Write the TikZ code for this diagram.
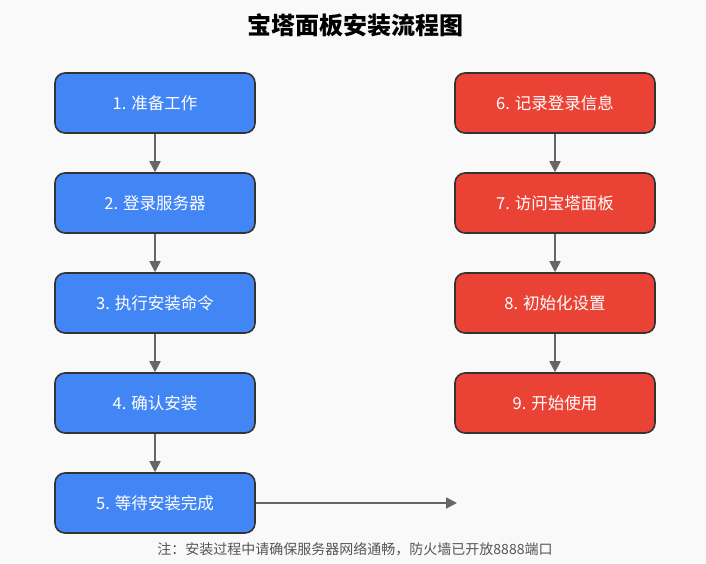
\documentclass[tikz,border=0pt]{standalone}
\usepackage{fontspec}
\setmainfont{Noto Sans CJK SC}
\usetikzlibrary{arrows.meta}
\definecolor{bgc}{HTML}{F9F9F9}
\definecolor{bluec}{HTML}{4285F4}
\definecolor{redc}{HTML}{EA4335}
\definecolor{edgec}{HTML}{333333}
\definecolor{arrc}{HTML}{666666}
\definecolor{notec}{HTML}{555555}
\tikzset{
  box/.style={draw=edgec, line width=1.6pt, rounded corners=10pt, minimum width=200pt, minimum height=60pt, text=white, font=\fontsize{16.5}{18}\selectfont, inner sep=0pt},
  bluebox/.style={box, fill=bluec},
  redbox/.style={box, fill=redc},
  conn/.style={draw=arrc, line width=1.8pt, -{Triangle[length=11pt,width=11pt]}}
}
\begin{document}
\begin{tikzpicture}[x=1pt,y=-1pt]
\fill[bgc] (0,0) rectangle (706,563);
\useasboundingbox (0,0) rectangle (706,563);
\node[font=\bfseries\fontsize{24}{28}\selectfont] (title) at (355,25) {宝塔面板安装流程图};
\node[bluebox] (n1) at (155,103) {1. 准备工作};
\node[bluebox] (n2) at (155,203) {2. 登录服务器};
\node[bluebox] (n3) at (155,303) {3. 执行安装命令};
\node[bluebox] (n4) at (155,403) {4. 确认安装};
\node[bluebox] (n5) at (155,503) {5. 等待安装完成};
\node[redbox] (n6) at (555,103) {6. 记录登录信息};
\node[redbox] (n7) at (555,203) {7. 访问宝塔面板};
\node[redbox] (n8) at (555,303) {8. 初始化设置};
\node[redbox] (n9) at (555,403) {9. 开始使用};
\coordinate (end5) at (457,503);
\draw[conn] (n1) -- (n2);
\draw[conn] (n2) -- (n3);
\draw[conn] (n3) -- (n4);
\draw[conn] (n4) -- (n5);
\draw[conn] (n5) -- (end5);
\draw[conn] (n6) -- (n7);
\draw[conn] (n7) -- (n8);
\draw[conn] (n8) -- (n9);
\node[text=notec, font=\fontsize{14}{16}\selectfont] (note) at (355,549) {注：安装过程中请确保服务器网络通畅，防火墙已开放8888端口};
\end{tikzpicture}
\end{document}
